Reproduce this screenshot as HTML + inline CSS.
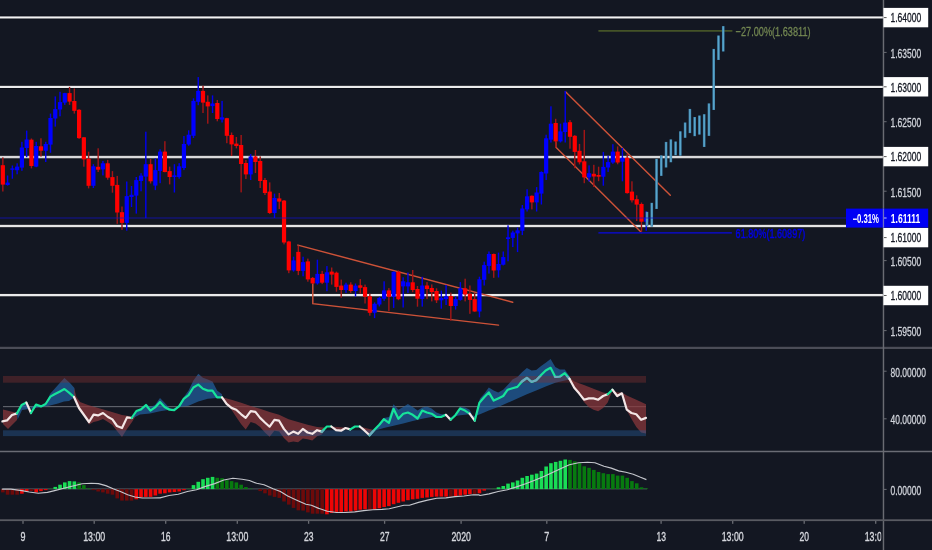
<!DOCTYPE html>
<html><head><meta charset="utf-8"><title>Chart</title>
<style>html,body{margin:0;padding:0;background:#131722;}body{width:932px;height:550px;overflow:hidden;}svg{display:block;will-change:transform;}text{font-family:"Liberation Sans",sans-serif;paint-order:stroke;stroke-linejoin:round;}</style>
</head><body>
<svg width="932" height="550" viewBox="0 0 932 550">
<rect x="0" y="0" width="932" height="550" fill="#131722"/>
<rect x="0" y="15.60" width="884" height="3.70" fill="#090c15"/>
<rect x="0" y="16.40" width="884" height="2.10" fill="#f2f2f3"/>
<rect x="0" y="85.00" width="884" height="3.80" fill="#090c15"/>
<rect x="0" y="85.80" width="884" height="2.20" fill="#ebebec"/>
<rect x="0" y="155.00" width="884" height="4.10" fill="#090c15"/>
<rect x="0" y="155.80" width="884" height="2.50" fill="#d9d9db"/>
<rect x="0" y="224.00" width="846" height="4.00" fill="#090c15"/>
<rect x="0" y="224.80" width="846" height="2.40" fill="#e5e5e6"/>
<rect x="0" y="293.10" width="884" height="4.00" fill="#090c15"/>
<rect x="0" y="293.90" width="884" height="2.40" fill="#ebebec"/>
<g stroke="#cd5238" stroke-width="1.45" fill="none" stroke-linecap="round">
<path d="M297.9 245.1 L512.7 302.2"/>
<path d="M312.8 283.5 L312.8 303.6 L498.5 325.1"/>
<path d="M565.5 91.7 L670.3 195.3"/>
<path d="M555.9 142 L555.9 147.3 L641.5 232.4"/>
</g>
<rect x="598.4" y="30.2" width="134" height="1.4" fill="#51632a"/>
<rect x="598.4" y="232.0" width="133.5" height="1.7" fill="#0c0cb0"/>
<g>
<rect x="2.14" y="157.4" width="1.4" height="34.1" fill="#a51616"/>
<rect x="0.74" y="165.2" width="4.2" height="19.4" fill="#ff0000"/>
<rect x="6.90" y="175.5" width="1.4" height="10.1" fill="#0000f0"/>
<rect x="5.50" y="182.6" width="4.2" height="2.4" fill="#0000ff"/>
<rect x="11.67" y="165.5" width="1.4" height="13.2" fill="#0000f0"/>
<rect x="10.27" y="168.4" width="4.2" height="1.4" fill="#0000ff"/>
<rect x="16.43" y="163.3" width="1.4" height="11.0" fill="#0000f0"/>
<rect x="15.03" y="166.6" width="4.2" height="3.6" fill="#0000ff"/>
<rect x="21.20" y="141.8" width="1.4" height="29.0" fill="#0000f0"/>
<rect x="19.80" y="147.5" width="4.2" height="20.1" fill="#0000ff"/>
<rect x="25.97" y="130.6" width="1.4" height="26.6" fill="#0000f0"/>
<rect x="24.57" y="139.5" width="4.2" height="8.5" fill="#0000ff"/>
<rect x="30.73" y="138.5" width="1.4" height="29.9" fill="#a51616"/>
<rect x="29.33" y="139.7" width="4.2" height="26.3" fill="#ff0000"/>
<rect x="35.50" y="141.8" width="1.4" height="25.4" fill="#0000f0"/>
<rect x="34.10" y="146.0" width="4.2" height="20.6" fill="#0000ff"/>
<rect x="40.26" y="138.3" width="1.4" height="18.3" fill="#a51616"/>
<rect x="38.86" y="146.3" width="4.2" height="4.4" fill="#ff0000"/>
<rect x="45.03" y="141.8" width="1.4" height="20.2" fill="#0000f0"/>
<rect x="43.63" y="144.0" width="4.2" height="6.7" fill="#0000ff"/>
<rect x="49.80" y="113.6" width="1.4" height="39.2" fill="#0000f0"/>
<rect x="48.40" y="118.0" width="4.2" height="26.6" fill="#0000ff"/>
<rect x="54.56" y="96.4" width="1.4" height="30.2" fill="#0000f0"/>
<rect x="53.16" y="109.1" width="4.2" height="9.4" fill="#0000ff"/>
<rect x="59.33" y="91.8" width="1.4" height="24.5" fill="#0000f0"/>
<rect x="57.93" y="102.1" width="4.2" height="7.4" fill="#0000ff"/>
<rect x="64.09" y="92.8" width="1.4" height="12.1" fill="#0000f0"/>
<rect x="62.69" y="93.1" width="4.2" height="9.5" fill="#0000ff"/>
<rect x="68.86" y="86.9" width="1.4" height="18.0" fill="#a51616"/>
<rect x="67.46" y="93.1" width="4.2" height="8.5" fill="#ff0000"/>
<rect x="73.63" y="88.5" width="1.4" height="25.1" fill="#a51616"/>
<rect x="72.23" y="101.0" width="4.2" height="9.8" fill="#ff0000"/>
<rect x="78.39" y="109.1" width="1.4" height="29.8" fill="#a51616"/>
<rect x="76.99" y="109.8" width="4.2" height="28.3" fill="#ff0000"/>
<rect x="83.16" y="137.0" width="1.4" height="29.7" fill="#a51616"/>
<rect x="81.76" y="137.3" width="4.2" height="22.1" fill="#ff0000"/>
<rect x="87.92" y="151.7" width="1.4" height="36.7" fill="#a51616"/>
<rect x="86.52" y="158.7" width="4.2" height="27.1" fill="#ff0000"/>
<rect x="92.69" y="164.2" width="1.4" height="23.8" fill="#0000f0"/>
<rect x="91.29" y="166.3" width="4.2" height="19.5" fill="#0000ff"/>
<rect x="97.46" y="148.3" width="1.4" height="23.7" fill="#a51616"/>
<rect x="96.06" y="166.8" width="4.2" height="2.9" fill="#ff0000"/>
<rect x="102.22" y="161.0" width="1.4" height="14.4" fill="#0000f0"/>
<rect x="100.82" y="163.3" width="4.2" height="6.1" fill="#0000ff"/>
<rect x="106.99" y="159.9" width="1.4" height="19.8" fill="#a51616"/>
<rect x="105.59" y="163.3" width="4.2" height="14.4" fill="#ff0000"/>
<rect x="111.75" y="171.1" width="1.4" height="21.6" fill="#a51616"/>
<rect x="110.35" y="177.1" width="4.2" height="8.7" fill="#ff0000"/>
<rect x="116.52" y="175.9" width="1.4" height="47.9" fill="#a51616"/>
<rect x="115.12" y="184.9" width="4.2" height="27.6" fill="#ff0000"/>
<rect x="121.29" y="206.5" width="1.4" height="23.3" fill="#a51616"/>
<rect x="119.89" y="212.2" width="4.2" height="10.7" fill="#ff0000"/>
<rect x="126.05" y="181.5" width="1.4" height="49.2" fill="#0000f0"/>
<rect x="124.65" y="196.1" width="4.2" height="26.8" fill="#0000ff"/>
<rect x="130.82" y="186.0" width="1.4" height="21.0" fill="#0000f0"/>
<rect x="129.42" y="194.8" width="4.2" height="2.2" fill="#0000ff"/>
<rect x="135.58" y="177.0" width="1.4" height="36.6" fill="#0000f0"/>
<rect x="134.18" y="180.1" width="4.2" height="15.5" fill="#0000ff"/>
<rect x="140.35" y="173.2" width="1.4" height="18.1" fill="#0000f0"/>
<rect x="138.95" y="175.6" width="4.2" height="5.4" fill="#0000ff"/>
<rect x="145.12" y="131.7" width="1.4" height="86.4" fill="#0000f0"/>
<rect x="143.72" y="164.2" width="4.2" height="12.4" fill="#0000ff"/>
<rect x="149.88" y="159.0" width="1.4" height="24.5" fill="#a51616"/>
<rect x="148.48" y="164.2" width="4.2" height="17.1" fill="#ff0000"/>
<rect x="154.65" y="158.5" width="1.4" height="31.6" fill="#0000f0"/>
<rect x="153.25" y="170.1" width="4.2" height="15.5" fill="#0000ff"/>
<rect x="159.41" y="149.3" width="1.4" height="33.9" fill="#0000f0"/>
<rect x="158.01" y="151.6" width="4.2" height="19.3" fill="#0000ff"/>
<rect x="164.18" y="141.2" width="1.4" height="31.1" fill="#a51616"/>
<rect x="162.78" y="151.6" width="4.2" height="20.4" fill="#ff0000"/>
<rect x="168.95" y="166.6" width="1.4" height="17.8" fill="#a51616"/>
<rect x="167.55" y="171.1" width="4.2" height="5.9" fill="#ff0000"/>
<rect x="173.71" y="164.2" width="1.4" height="28.3" fill="#0000f0"/>
<rect x="172.31" y="175.3" width="4.2" height="1.7" fill="#0000ff"/>
<rect x="178.48" y="163.2" width="1.4" height="15.5" fill="#0000f0"/>
<rect x="177.08" y="166.3" width="4.2" height="10.7" fill="#0000ff"/>
<rect x="183.24" y="136.0" width="1.4" height="34.1" fill="#0000f0"/>
<rect x="181.84" y="144.0" width="4.2" height="24.0" fill="#0000ff"/>
<rect x="188.01" y="130.3" width="1.4" height="15.5" fill="#0000f0"/>
<rect x="186.61" y="134.7" width="4.2" height="9.8" fill="#0000ff"/>
<rect x="192.78" y="98.3" width="1.4" height="39.7" fill="#0000f0"/>
<rect x="191.38" y="100.9" width="4.2" height="34.9" fill="#0000ff"/>
<rect x="197.54" y="77.1" width="1.4" height="28.1" fill="#0000f0"/>
<rect x="196.14" y="90.9" width="4.2" height="10.9" fill="#0000ff"/>
<rect x="202.31" y="85.7" width="1.4" height="27.3" fill="#a51616"/>
<rect x="200.91" y="90.9" width="4.2" height="11.7" fill="#ff0000"/>
<rect x="207.07" y="95.4" width="1.4" height="28.3" fill="#a51616"/>
<rect x="205.67" y="101.8" width="4.2" height="4.6" fill="#ff0000"/>
<rect x="211.84" y="95.4" width="1.4" height="17.6" fill="#0000f0"/>
<rect x="210.44" y="103.5" width="4.2" height="2.6" fill="#0000ff"/>
<rect x="216.61" y="100.0" width="1.4" height="21.3" fill="#a51616"/>
<rect x="215.21" y="103.0" width="4.2" height="16.0" fill="#ff0000"/>
<rect x="221.37" y="100.9" width="1.4" height="21.6" fill="#0000f0"/>
<rect x="219.97" y="117.3" width="4.2" height="2.3" fill="#0000ff"/>
<rect x="226.14" y="117.8" width="1.4" height="25.4" fill="#a51616"/>
<rect x="224.74" y="118.2" width="4.2" height="17.6" fill="#ff0000"/>
<rect x="230.90" y="132.5" width="1.4" height="23.5" fill="#a51616"/>
<rect x="229.50" y="135.0" width="4.2" height="9.4" fill="#ff0000"/>
<rect x="235.67" y="137.0" width="1.4" height="11.4" fill="#a51616"/>
<rect x="234.27" y="143.6" width="4.2" height="2.4" fill="#ff0000"/>
<rect x="240.44" y="135.0" width="1.4" height="57.4" fill="#a51616"/>
<rect x="239.04" y="145.0" width="4.2" height="19.0" fill="#ff0000"/>
<rect x="245.20" y="160.0" width="1.4" height="19.0" fill="#a51616"/>
<rect x="243.80" y="163.0" width="4.2" height="11.4" fill="#ff0000"/>
<rect x="249.97" y="154.0" width="1.4" height="26.0" fill="#0000f0"/>
<rect x="248.57" y="156.4" width="4.2" height="18.0" fill="#0000ff"/>
<rect x="254.73" y="150.0" width="1.4" height="23.0" fill="#a51616"/>
<rect x="253.33" y="156.4" width="4.2" height="5.6" fill="#ff0000"/>
<rect x="259.50" y="156.4" width="1.4" height="31.6" fill="#a51616"/>
<rect x="258.10" y="161.0" width="4.2" height="20.0" fill="#ff0000"/>
<rect x="264.27" y="178.0" width="1.4" height="17.0" fill="#a51616"/>
<rect x="262.87" y="180.0" width="4.2" height="13.0" fill="#ff0000"/>
<rect x="269.03" y="182.4" width="1.4" height="31.6" fill="#a51616"/>
<rect x="267.63" y="191.6" width="4.2" height="21.4" fill="#ff0000"/>
<rect x="273.80" y="193.6" width="1.4" height="24.4" fill="#0000f0"/>
<rect x="272.40" y="198.0" width="4.2" height="15.0" fill="#0000ff"/>
<rect x="278.56" y="193.0" width="1.4" height="16.0" fill="#a51616"/>
<rect x="277.16" y="198.4" width="4.2" height="3.2" fill="#ff0000"/>
<rect x="283.33" y="200.0" width="1.4" height="44.4" fill="#a51616"/>
<rect x="281.93" y="200.6" width="4.2" height="41.9" fill="#ff0000"/>
<rect x="288.10" y="240.8" width="1.4" height="32.4" fill="#a51616"/>
<rect x="286.70" y="241.5" width="4.2" height="28.9" fill="#ff0000"/>
<rect x="292.86" y="256.7" width="1.4" height="14.9" fill="#0000f0"/>
<rect x="291.46" y="260.4" width="4.2" height="10.0" fill="#0000ff"/>
<rect x="297.63" y="245.6" width="1.4" height="29.5" fill="#a51616"/>
<rect x="296.23" y="251.9" width="4.2" height="19.0" fill="#ff0000"/>
<rect x="302.39" y="256.7" width="1.4" height="19.6" fill="#0000f0"/>
<rect x="300.99" y="262.1" width="4.2" height="8.8" fill="#0000ff"/>
<rect x="307.16" y="258.6" width="1.4" height="23.1" fill="#a51616"/>
<rect x="305.76" y="261.4" width="4.2" height="18.0" fill="#ff0000"/>
<rect x="311.93" y="277.0" width="1.4" height="7.0" fill="#a51616"/>
<rect x="310.53" y="277.9" width="4.2" height="5.5" fill="#ff0000"/>
<rect x="316.69" y="259.7" width="1.4" height="24.9" fill="#0000f0"/>
<rect x="315.29" y="273.9" width="4.2" height="9.5" fill="#0000ff"/>
<rect x="321.46" y="270.9" width="1.4" height="13.2" fill="#a51616"/>
<rect x="320.06" y="273.9" width="4.2" height="8.8" fill="#ff0000"/>
<rect x="326.22" y="266.1" width="1.4" height="25.1" fill="#0000f0"/>
<rect x="324.82" y="272.3" width="4.2" height="10.4" fill="#0000ff"/>
<rect x="330.99" y="267.5" width="1.4" height="17.1" fill="#a51616"/>
<rect x="329.59" y="271.6" width="4.2" height="3.0" fill="#ff0000"/>
<rect x="335.76" y="271.6" width="1.4" height="20.1" fill="#a51616"/>
<rect x="334.36" y="272.7" width="4.2" height="14.2" fill="#ff0000"/>
<rect x="340.52" y="279.6" width="1.4" height="18.1" fill="#a51616"/>
<rect x="339.12" y="285.6" width="4.2" height="4.4" fill="#ff0000"/>
<rect x="345.29" y="282.7" width="1.4" height="10.2" fill="#0000f0"/>
<rect x="343.89" y="284.6" width="4.2" height="5.4" fill="#0000ff"/>
<rect x="350.05" y="282.3" width="1.4" height="10.6" fill="#a51616"/>
<rect x="348.65" y="284.6" width="4.2" height="6.4" fill="#ff0000"/>
<rect x="354.82" y="283.5" width="1.4" height="13.0" fill="#0000f0"/>
<rect x="353.42" y="285.6" width="4.2" height="5.4" fill="#0000ff"/>
<rect x="359.59" y="279.1" width="1.4" height="14.5" fill="#a51616"/>
<rect x="358.19" y="285.3" width="4.2" height="2.5" fill="#ff0000"/>
<rect x="364.35" y="284.6" width="1.4" height="18.9" fill="#a51616"/>
<rect x="362.95" y="287.1" width="4.2" height="9.7" fill="#ff0000"/>
<rect x="369.12" y="293.6" width="1.4" height="22.1" fill="#a51616"/>
<rect x="367.72" y="296.3" width="4.2" height="16.5" fill="#ff0000"/>
<rect x="373.88" y="302.4" width="1.4" height="15.7" fill="#0000f0"/>
<rect x="372.48" y="303.8" width="4.2" height="9.0" fill="#0000ff"/>
<rect x="378.65" y="296.8" width="1.4" height="9.6" fill="#0000f0"/>
<rect x="377.25" y="298.0" width="4.2" height="6.5" fill="#0000ff"/>
<rect x="383.42" y="281.3" width="1.4" height="19.6" fill="#0000f0"/>
<rect x="382.02" y="290.4" width="4.2" height="8.3" fill="#0000ff"/>
<rect x="388.18" y="288.1" width="1.4" height="23.0" fill="#a51616"/>
<rect x="386.78" y="290.4" width="4.2" height="6.4" fill="#ff0000"/>
<rect x="392.95" y="271.5" width="1.4" height="36.4" fill="#0000f0"/>
<rect x="391.55" y="271.8" width="4.2" height="25.0" fill="#0000ff"/>
<rect x="397.71" y="270.4" width="1.4" height="29.8" fill="#a51616"/>
<rect x="396.31" y="271.8" width="4.2" height="27.4" fill="#ff0000"/>
<rect x="402.48" y="277.3" width="1.4" height="30.2" fill="#0000f0"/>
<rect x="401.08" y="281.3" width="4.2" height="5.1" fill="#0000ff"/>
<rect x="407.25" y="272.5" width="1.4" height="20.4" fill="#0000f0"/>
<rect x="405.85" y="282.3" width="4.2" height="4.1" fill="#0000ff"/>
<rect x="412.01" y="270.0" width="1.4" height="22.2" fill="#a51616"/>
<rect x="410.61" y="282.3" width="4.2" height="7.7" fill="#ff0000"/>
<rect x="416.78" y="286.0" width="1.4" height="20.7" fill="#a51616"/>
<rect x="415.38" y="289.0" width="4.2" height="9.7" fill="#ff0000"/>
<rect x="421.54" y="276.8" width="1.4" height="29.8" fill="#0000f0"/>
<rect x="420.14" y="285.5" width="4.2" height="13.5" fill="#0000ff"/>
<rect x="426.31" y="282.1" width="1.4" height="17.0" fill="#a51616"/>
<rect x="424.91" y="285.5" width="4.2" height="3.5" fill="#ff0000"/>
<rect x="431.08" y="284.4" width="1.4" height="17.0" fill="#a51616"/>
<rect x="429.68" y="288.0" width="4.2" height="4.1" fill="#ff0000"/>
<rect x="435.84" y="288.3" width="1.4" height="14.7" fill="#a51616"/>
<rect x="434.44" y="291.0" width="4.2" height="9.3" fill="#ff0000"/>
<rect x="440.61" y="290.6" width="1.4" height="18.1" fill="#0000f0"/>
<rect x="439.21" y="297.9" width="4.2" height="2.4" fill="#0000ff"/>
<rect x="445.37" y="284.9" width="1.4" height="20.1" fill="#0000f0"/>
<rect x="443.97" y="296.3" width="4.2" height="2.8" fill="#0000ff"/>
<rect x="450.14" y="292.6" width="1.4" height="28.1" fill="#a51616"/>
<rect x="448.74" y="296.0" width="4.2" height="10.0" fill="#ff0000"/>
<rect x="454.91" y="296.3" width="1.4" height="13.3" fill="#0000f0"/>
<rect x="453.51" y="299.1" width="4.2" height="6.9" fill="#0000ff"/>
<rect x="459.67" y="282.1" width="1.4" height="18.5" fill="#0000f0"/>
<rect x="458.27" y="288.3" width="4.2" height="11.6" fill="#0000ff"/>
<rect x="464.44" y="278.7" width="1.4" height="22.7" fill="#a51616"/>
<rect x="463.04" y="288.3" width="4.2" height="6.2" fill="#ff0000"/>
<rect x="469.20" y="285.5" width="1.4" height="28.3" fill="#a51616"/>
<rect x="467.80" y="293.7" width="4.2" height="6.2" fill="#ff0000"/>
<rect x="473.97" y="293.2" width="1.4" height="18.6" fill="#a51616"/>
<rect x="472.57" y="299.1" width="4.2" height="12.4" fill="#ff0000"/>
<rect x="478.74" y="276.7" width="1.4" height="40.6" fill="#0000f0"/>
<rect x="477.34" y="279.3" width="4.2" height="32.2" fill="#0000ff"/>
<rect x="483.50" y="261.7" width="1.4" height="23.8" fill="#0000f0"/>
<rect x="482.10" y="265.1" width="4.2" height="14.7" fill="#0000ff"/>
<rect x="488.27" y="251.5" width="1.4" height="22.1" fill="#0000f0"/>
<rect x="486.87" y="254.0" width="4.2" height="11.9" fill="#0000ff"/>
<rect x="493.03" y="253.5" width="1.4" height="24.3" fill="#a51616"/>
<rect x="491.63" y="254.0" width="4.2" height="16.5" fill="#ff0000"/>
<rect x="497.80" y="252.6" width="1.4" height="24.9" fill="#0000f0"/>
<rect x="496.40" y="264.0" width="4.2" height="6.3" fill="#0000ff"/>
<rect x="502.57" y="251.5" width="1.4" height="13.9" fill="#0000f0"/>
<rect x="501.17" y="257.1" width="4.2" height="7.6" fill="#0000ff"/>
<rect x="507.33" y="225.3" width="1.4" height="36.0" fill="#0000f0"/>
<rect x="505.93" y="237.3" width="4.2" height="1.7" fill="#0000ff"/>
<rect x="512.10" y="230.7" width="1.4" height="16.4" fill="#0000f0"/>
<rect x="510.70" y="232.5" width="4.2" height="5.4" fill="#0000ff"/>
<rect x="516.86" y="227.5" width="1.4" height="24.6" fill="#0000f0"/>
<rect x="515.46" y="230.3" width="4.2" height="3.1" fill="#0000ff"/>
<rect x="521.63" y="205.0" width="1.4" height="30.1" fill="#0000f0"/>
<rect x="520.23" y="208.5" width="4.2" height="22.2" fill="#0000ff"/>
<rect x="526.40" y="189.3" width="1.4" height="22.2" fill="#0000f0"/>
<rect x="525.00" y="196.3" width="4.2" height="13.1" fill="#0000ff"/>
<rect x="531.16" y="195.4" width="1.4" height="14.0" fill="#a51616"/>
<rect x="529.76" y="195.8" width="4.2" height="6.6" fill="#ff0000"/>
<rect x="535.93" y="187.1" width="1.4" height="24.4" fill="#0000f0"/>
<rect x="534.53" y="192.5" width="4.2" height="9.9" fill="#0000ff"/>
<rect x="540.69" y="171.4" width="1.4" height="33.1" fill="#0000f0"/>
<rect x="539.29" y="172.0" width="4.2" height="21.6" fill="#0000ff"/>
<rect x="545.46" y="134.7" width="1.4" height="45.3" fill="#0000f0"/>
<rect x="544.06" y="138.3" width="4.2" height="35.2" fill="#0000ff"/>
<rect x="550.23" y="106.3" width="1.4" height="36.2" fill="#0000f0"/>
<rect x="548.83" y="123.7" width="4.2" height="16.0" fill="#0000ff"/>
<rect x="554.99" y="118.8" width="1.4" height="28.9" fill="#a51616"/>
<rect x="553.59" y="123.0" width="4.2" height="18.4" fill="#ff0000"/>
<rect x="559.76" y="123.7" width="1.4" height="18.8" fill="#0000f0"/>
<rect x="558.36" y="131.4" width="4.2" height="10.0" fill="#0000ff"/>
<rect x="564.52" y="90.9" width="1.4" height="51.6" fill="#0000f0"/>
<rect x="563.12" y="122.6" width="4.2" height="9.4" fill="#0000ff"/>
<rect x="569.29" y="120.1" width="1.4" height="28.6" fill="#a51616"/>
<rect x="567.89" y="122.2" width="4.2" height="14.6" fill="#ff0000"/>
<rect x="574.06" y="135.1" width="1.4" height="33.1" fill="#a51616"/>
<rect x="572.66" y="135.8" width="4.2" height="16.1" fill="#ff0000"/>
<rect x="578.82" y="143.9" width="1.4" height="20.5" fill="#a51616"/>
<rect x="577.42" y="150.8" width="4.2" height="11.5" fill="#ff0000"/>
<rect x="583.59" y="129.9" width="1.4" height="53.3" fill="#a51616"/>
<rect x="582.19" y="161.3" width="4.2" height="16.1" fill="#ff0000"/>
<rect x="588.35" y="165.4" width="1.4" height="16.1" fill="#0000f0"/>
<rect x="586.95" y="173.2" width="4.2" height="4.2" fill="#0000ff"/>
<rect x="593.12" y="164.8" width="1.4" height="22.2" fill="#a51616"/>
<rect x="591.72" y="173.8" width="4.2" height="2.7" fill="#ff0000"/>
<rect x="597.89" y="166.7" width="1.4" height="14.5" fill="#a51616"/>
<rect x="596.49" y="175.0" width="4.2" height="1.7" fill="#ff0000"/>
<rect x="602.65" y="151.9" width="1.4" height="33.8" fill="#0000f0"/>
<rect x="601.25" y="166.9" width="4.2" height="9.8" fill="#0000ff"/>
<rect x="607.42" y="155.5" width="1.4" height="16.4" fill="#0000f0"/>
<rect x="606.02" y="162.1" width="4.2" height="5.4" fill="#0000ff"/>
<rect x="612.18" y="144.2" width="1.4" height="19.6" fill="#0000f0"/>
<rect x="610.78" y="151.6" width="4.2" height="10.9" fill="#0000ff"/>
<rect x="616.95" y="146.4" width="1.4" height="17.9" fill="#a51616"/>
<rect x="615.55" y="151.6" width="4.2" height="10.9" fill="#ff0000"/>
<rect x="621.72" y="147.9" width="1.4" height="33.4" fill="#0000f0"/>
<rect x="620.32" y="157.7" width="4.2" height="4.0" fill="#0000ff"/>
<rect x="626.48" y="153.8" width="1.4" height="39.9" fill="#a51616"/>
<rect x="625.08" y="157.7" width="4.2" height="35.4" fill="#ff0000"/>
<rect x="631.25" y="181.3" width="1.4" height="21.2" fill="#a51616"/>
<rect x="629.85" y="191.6" width="4.2" height="8.7" fill="#ff0000"/>
<rect x="636.01" y="195.3" width="1.4" height="25.7" fill="#a51616"/>
<rect x="634.61" y="199.2" width="4.2" height="5.4" fill="#ff0000"/>
<rect x="640.78" y="202.5" width="1.4" height="29.4" fill="#a51616"/>
<rect x="639.38" y="204.0" width="4.2" height="17.7" fill="#ff0000"/>
<rect x="645.55" y="211.2" width="1.4" height="19.6" fill="#0000f0"/>
<rect x="644.15" y="217.7" width="4.2" height="4.0" fill="#0000ff"/>
</g>
<g>
<rect x="645.70" y="211.8" width="2.6" height="14.6" fill="#3a7aa2"/>
<rect x="646.30" y="212.1" width="1.4" height="14.0" fill="#5aa6cb"/>
<rect x="650.46" y="202.8" width="2.6" height="23.8" fill="#3a7aa2"/>
<rect x="651.06" y="203.1" width="1.4" height="23.2" fill="#5aa6cb"/>
<rect x="655.23" y="158.8" width="2.6" height="50.2" fill="#3a7aa2"/>
<rect x="655.83" y="159.1" width="1.4" height="49.6" fill="#5aa6cb"/>
<rect x="659.99" y="155.4" width="2.6" height="20.5" fill="#3a7aa2"/>
<rect x="660.59" y="155.7" width="1.4" height="19.9" fill="#5aa6cb"/>
<rect x="664.76" y="141.9" width="2.6" height="25.6" fill="#3a7aa2"/>
<rect x="665.36" y="142.2" width="1.4" height="25.0" fill="#5aa6cb"/>
<rect x="669.53" y="139.4" width="2.6" height="22.9" fill="#3a7aa2"/>
<rect x="670.13" y="139.7" width="1.4" height="22.3" fill="#5aa6cb"/>
<rect x="674.29" y="141.5" width="2.6" height="13.8" fill="#3a7aa2"/>
<rect x="674.89" y="141.8" width="1.4" height="13.2" fill="#5aa6cb"/>
<rect x="679.06" y="131.3" width="2.6" height="24.4" fill="#3a7aa2"/>
<rect x="679.66" y="131.6" width="1.4" height="23.8" fill="#5aa6cb"/>
<rect x="683.82" y="122.5" width="2.6" height="15.3" fill="#3a7aa2"/>
<rect x="684.42" y="122.8" width="1.4" height="14.7" fill="#5aa6cb"/>
<rect x="688.59" y="108.9" width="2.6" height="24.2" fill="#3a7aa2"/>
<rect x="689.19" y="109.2" width="1.4" height="23.6" fill="#5aa6cb"/>
<rect x="693.36" y="117.0" width="2.6" height="19.2" fill="#3a7aa2"/>
<rect x="693.96" y="117.3" width="1.4" height="18.6" fill="#5aa6cb"/>
<rect x="698.12" y="115.5" width="2.6" height="19.1" fill="#3a7aa2"/>
<rect x="698.72" y="115.8" width="1.4" height="18.5" fill="#5aa6cb"/>
<rect x="702.89" y="114.2" width="2.6" height="32.8" fill="#3a7aa2"/>
<rect x="703.49" y="114.5" width="1.4" height="32.2" fill="#5aa6cb"/>
<rect x="707.65" y="103.4" width="2.6" height="32.5" fill="#3a7aa2"/>
<rect x="708.25" y="103.7" width="1.4" height="31.9" fill="#5aa6cb"/>
<rect x="712.42" y="48.9" width="2.6" height="61.1" fill="#3a7aa2"/>
<rect x="713.02" y="49.2" width="1.4" height="60.5" fill="#5aa6cb"/>
<rect x="717.19" y="35.5" width="2.6" height="24.5" fill="#3a7aa2"/>
<rect x="717.79" y="35.8" width="1.4" height="23.9" fill="#5aa6cb"/>
<rect x="721.95" y="26.1" width="2.6" height="25.4" fill="#3a7aa2"/>
<rect x="722.55" y="26.4" width="1.4" height="24.8" fill="#5aa6cb"/>
</g>
<rect x="0" y="217.4" width="846" height="1.2" fill="rgba(18,18,205,0.6)"/>
<text x="735.6" y="36.2" font-size="13.2" fill="#728651" stroke="#728651" stroke-width="0.3" textLength="75" lengthAdjust="spacingAndGlyphs">−27.00%(1.63811)</text>
<text x="735.6" y="238.2" font-size="13.2" fill="#0000e6" stroke="#0000e6" stroke-width="0.45" textLength="69.7" lengthAdjust="spacingAndGlyphs">61.80%(1.60897)</text>
<rect x="0" y="346.0" width="932" height="3.8" fill="#0e111a"/>
<rect x="0" y="346.7" width="932" height="2.4" fill="#4b4d57"/>
<rect x="0" y="450.75" width="932" height="1.5" fill="#6a6c75"/>
<rect x="3" y="406.15" width="643" height="1" fill="#6b6e77"/>
<polygon fill="rgba(140,55,60,0.72)" points="3.0,409.4 17.0,413.0 17.0,420.0 8.0,429.0 3.0,424.0"/>
<polygon fill="rgba(33,96,160,0.72)" points="17.0,414.0 21.6,405.0 26.4,402.6 29.0,408.6 36.0,404.6 41.0,406.4 45.6,404.0 50.0,394.0 58.0,385.0 64.4,378.0 70.0,383.0 74.4,388.0 75.0,396.0 74.0,397.4 69.0,401.0 64.0,401.4 58.0,403.4 48.0,406.0 32.0,408.6 22.0,410.0 17.6,419.4"/>
<polygon fill="rgba(140,55,60,0.72)" points="74.0,388.0 76.4,397.0 80.0,402.0 88.0,405.0 100.0,408.6 112.0,412.0 122.0,415.0 132.0,416.6 136.0,416.0 136.0,415.4 132.0,422.0 127.0,429.0 122.0,437.0 117.0,431.0 112.4,425.0 108.0,422.0 103.0,419.0 98.0,421.0 93.6,422.0 89.0,424.6 84.0,415.0 79.0,408.0 74.4,397.4"/>
<polygon fill="rgba(33,96,160,0.72)" points="132.0,417.4 136.4,411.0 141.0,409.4 146.0,404.0 150.4,407.0 155.0,405.0 160.0,398.0 160.0,397.9 164.6,402.8 169.5,407.9 174.2,409.7 179.2,405.7 183.7,397.3 188.6,390.6 193.4,380.5 198.3,373.8 202.9,377.8 207.8,379.6 212.5,381.5 217.1,390.6 222.0,394.2 222.0,397.9 217.1,397.9 207.8,398.8 198.3,401.5 188.6,405.7 179.2,407.0 169.5,409.7 160.0,411.2 150.0,413.4 140.0,414.6 133.0,418.0"/>
<polygon fill="rgba(140,55,60,0.72)" points="222.0,397.3 231.5,399.7 241.2,402.8 250.7,406.1 260.1,408.8 269.6,411.9 279.1,414.8 288.6,419.2 298.1,422.1 307.6,424.7 317.1,427.1 324.2,427.6 324.2,431.6 321.8,434.4 317.1,436.2 312.3,440.4 307.6,439.3 302.8,438.5 298.1,442.2 293.3,441.6 288.6,442.6 283.9,438.0 279.1,431.6 274.4,430.7 269.6,436.7 264.9,432.5 260.1,427.1 255.4,423.4 250.7,422.1 245.7,429.4 241.2,424.3 236.2,417.0 231.5,409.7 226.6,403.9 222.0,397.9"/>
<polygon fill="rgba(140,55,60,0.72)" points="331.3,426.5 340.1,427.2 349.2,428.0 345.5,428.0 341.0,430.7 336.1,430.2"/>
<polygon fill="rgba(140,55,60,0.72)" points="359.8,426.5 367.4,428.5 372.9,429.8 369.6,435.3 364.7,430.7"/>
<polygon fill="rgba(33,96,160,0.72)" points="374.4,429.4 379.3,423.4 383.8,417.9 389.0,417.0 393.5,404.3 398.4,409.7 403.2,407.0 407.9,403.9 412.7,407.0 417.6,410.6 422.2,407.5 426.9,406.6 431.6,408.4 436.4,412.5 441.1,414.3 445.9,414.3 450.6,417.9 455.4,414.3 460.1,407.0 465.0,407.5 469.6,409.7 472.3,415.2 474.7,418.8 479.4,400.6 480.0,398.4 484.6,393.3 488.8,387.5 493.7,390.6 498.2,392.4 503.2,389.7 507.7,385.1 512.5,379.6 517.4,376.9 522.0,372.3 526.9,368.1 531.6,370.5 536.2,370.0 541.1,365.9 545.7,362.7 550.6,359.0 555.3,366.9 559.9,369.6 564.8,369.6 569.4,376.0 570.3,379.6 569.4,379.6 564.8,380.5 555.3,382.7 545.7,386.4 536.2,390.6 526.9,394.2 517.4,398.4 507.7,402.8 498.2,407.0 488.8,410.6 480.0,414.3 474.7,416.1 469.6,414.3 460.1,415.2 450.6,417.0 441.1,416.1 431.6,417.0 422.2,418.8 412.7,421.0 403.2,423.4 393.5,425.8 383.8,428.0 374.4,430.7"/>
<polygon fill="rgba(140,55,60,0.72)" points="569.4,377.8 574.3,381.5 584.0,385.1 593.5,388.7 603.1,392.4 609.5,393.7 612.4,390.6 617.2,392.4 621.9,392.4 626.8,395.5 636.3,399.7 646.0,404.3 646.0,433.4 641.1,432.5 636.3,427.1 631.4,418.8 626.8,410.6 624.1,401.5 621.9,394.2 617.2,397.3 615.0,394.2 612.4,390.6 607.7,402.4 603.1,407.9 598.2,411.2 593.5,409.7 588.7,407.0 584.0,402.1 579.1,394.2 574.3,387.8 569.4,379.6"/>
<rect x="3" y="376" width="643" height="6.7" fill="rgba(129,50,49,0.4)"/>
<rect x="3" y="430.3" width="643" height="5.8" fill="rgba(39,96,154,0.4)"/>
<defs><clipPath id="rb"><rect x="3" y="376" width="643" height="6.7"/><rect x="3" y="430.3" width="643" height="5.8"/></clipPath></defs>
<polyline fill="none" stroke="#f3e6e6" stroke-width="2.2" stroke-linejoin="round" stroke-linecap="round" points="2.4,421.4 7.0,420.4 12.0,415.0 17.0,413.4"/>
<polyline fill="none" stroke="#17e39a" stroke-width="2.2" stroke-linejoin="round" stroke-linecap="round" points="17.0,413.4 21.6,405.0 26.4,402.6"/>
<polyline clip-path="url(#rb)" fill="none" stroke="#6fa8c0" stroke-width="2.2" stroke-linejoin="round" stroke-linecap="round" points="17.0,413.4 21.6,405.0 26.4,402.6"/>
<polyline fill="none" stroke="#f3e6e6" stroke-width="2.2" stroke-linejoin="round" stroke-linecap="round" points="26.4,402.6 31.0,413.0"/>
<polyline fill="none" stroke="#17e39a" stroke-width="2.2" stroke-linejoin="round" stroke-linecap="round" points="31.0,413.0 36.0,404.6 41.0,406.4 45.6,404.0 50.4,396.6 55.0,394.0 60.0,391.4 64.4,389.0 69.0,392.6 74.0,397.0"/>
<polyline clip-path="url(#rb)" fill="none" stroke="#6fa8c0" stroke-width="2.2" stroke-linejoin="round" stroke-linecap="round" points="31.0,413.0 36.0,404.6 41.0,406.4 45.6,404.0 50.4,396.6 55.0,394.0 60.0,391.4 64.4,389.0 69.0,392.6 74.0,397.0"/>
<polyline fill="none" stroke="#f3e6e6" stroke-width="2.2" stroke-linejoin="round" stroke-linecap="round" points="74.0,397.0 79.0,408.0 84.0,415.0 89.0,422.0 93.6,414.6 98.0,415.4 103.0,413.0 108.0,417.0 112.4,419.4 117.0,426.0 122.0,428.0 127.0,417.4 131.6,418.0"/>
<polyline fill="none" stroke="#17e39a" stroke-width="2.2" stroke-linejoin="round" stroke-linecap="round" points="131.6,418.0 136.4,411.0 141.0,409.4 146.0,405.0 150.4,410.6 155.0,407.4 160.0,402.0 164.6,407.0 169.5,409.7 174.2,410.1 179.2,406.1 183.7,398.8 188.6,395.1 193.4,387.5 198.3,384.6 202.9,388.7 207.8,390.6 212.5,390.6 217.1,397.3 222.0,397.3"/>
<polyline clip-path="url(#rb)" fill="none" stroke="#6fa8c0" stroke-width="2.2" stroke-linejoin="round" stroke-linecap="round" points="131.6,418.0 136.4,411.0 141.0,409.4 146.0,405.0 150.4,410.6 155.0,407.4 160.0,402.0 164.6,407.0 169.5,409.7 174.2,410.1 179.2,406.1 183.7,398.8 188.6,395.1 193.4,387.5 198.3,384.6 202.9,388.7 207.8,390.6 212.5,390.6 217.1,397.3 222.0,397.3"/>
<polyline fill="none" stroke="#f3e6e6" stroke-width="2.2" stroke-linejoin="round" stroke-linecap="round" points="222.0,397.3 226.6,403.9 231.5,407.9 236.2,409.7 241.2,414.3 245.7,417.9 250.7,411.2 255.4,411.9 260.1,417.9 264.9,422.5 269.6,426.7 274.4,419.8 279.1,420.7 283.9,428.9 288.6,434.4 293.3,431.6 298.1,433.8 302.8,428.9 307.6,432.5 312.3,433.8 317.1,430.2 321.8,431.6"/>
<polyline fill="none" stroke="#17e39a" stroke-width="2.2" stroke-linejoin="round" stroke-linecap="round" points="321.8,431.6 326.9,426.5 331.3,426.5"/>
<polyline clip-path="url(#rb)" fill="none" stroke="#6fa8c0" stroke-width="2.2" stroke-linejoin="round" stroke-linecap="round" points="321.8,431.6 326.9,426.5 331.3,426.5"/>
<polyline fill="none" stroke="#f3e6e6" stroke-width="2.2" stroke-linejoin="round" stroke-linecap="round" points="331.3,426.5 336.1,430.2 341.0,430.7 345.5,428.0 350.3,429.4"/>
<polyline fill="none" stroke="#17e39a" stroke-width="2.2" stroke-linejoin="round" stroke-linecap="round" points="350.3,429.4 355.0,426.5 359.8,426.5"/>
<polyline clip-path="url(#rb)" fill="none" stroke="#6fa8c0" stroke-width="2.2" stroke-linejoin="round" stroke-linecap="round" points="350.3,429.4 355.0,426.5 359.8,426.5"/>
<polyline fill="none" stroke="#f3e6e6" stroke-width="2.2" stroke-linejoin="round" stroke-linecap="round" points="359.8,426.5 364.7,430.7 369.6,435.3"/>
<polyline fill="none" stroke="#17e39a" stroke-width="2.2" stroke-linejoin="round" stroke-linecap="round" points="369.6,435.3 374.4,429.8 379.3,424.7 383.8,419.2 388.9,422.9 393.5,408.8 398.4,418.8 403.2,413.7 407.9,412.5 412.7,414.8 417.6,418.5 422.2,410.6 426.9,412.5 431.6,413.7 436.4,417.0 441.1,417.0 445.9,414.8"/>
<polyline clip-path="url(#rb)" fill="none" stroke="#6fa8c0" stroke-width="2.2" stroke-linejoin="round" stroke-linecap="round" points="369.6,435.3 374.4,429.8 379.3,424.7 383.8,419.2 388.9,422.9 393.5,408.8 398.4,418.8 403.2,413.7 407.9,412.5 412.7,414.8 417.6,418.5 422.2,410.6 426.9,412.5 431.6,413.7 436.4,417.0 441.1,417.0 445.9,414.8"/>
<polyline fill="none" stroke="#f3e6e6" stroke-width="2.2" stroke-linejoin="round" stroke-linecap="round" points="445.9,414.8 450.6,419.8"/>
<polyline fill="none" stroke="#17e39a" stroke-width="2.2" stroke-linejoin="round" stroke-linecap="round" points="450.6,419.8 455.4,415.2 460.1,408.4 465.0,410.6 469.6,413.7"/>
<polyline clip-path="url(#rb)" fill="none" stroke="#6fa8c0" stroke-width="2.2" stroke-linejoin="round" stroke-linecap="round" points="450.6,419.8 455.4,415.2 460.1,408.4 465.0,410.6 469.6,413.7"/>
<polyline fill="none" stroke="#f3e6e6" stroke-width="2.2" stroke-linejoin="round" stroke-linecap="round" points="469.6,413.7 474.7,420.7"/>
<polyline fill="none" stroke="#17e39a" stroke-width="2.2" stroke-linejoin="round" stroke-linecap="round" points="474.7,420.7 479.4,402.8 484.4,397.0 488.8,392.4 493.7,400.6 498.2,398.4 503.2,396.0 507.7,389.7 512.5,388.2 517.4,386.9 522.0,381.5 526.9,377.8 531.6,382.0 536.2,380.2 541.1,375.1 545.7,370.5 550.6,367.8 555.3,376.9 559.9,376.5 564.8,373.2 569.4,378.7"/>
<polyline clip-path="url(#rb)" fill="none" stroke="#6fa8c0" stroke-width="2.2" stroke-linejoin="round" stroke-linecap="round" points="474.7,420.7 479.4,402.8 484.4,397.0 488.8,392.4 493.7,400.6 498.2,398.4 503.2,396.0 507.7,389.7 512.5,388.2 517.4,386.9 522.0,381.5 526.9,377.8 531.6,382.0 536.2,380.2 541.1,375.1 545.7,370.5 550.6,367.8 555.3,376.9 559.9,376.5 564.8,373.2 569.4,378.7"/>
<polyline fill="none" stroke="#f3e6e6" stroke-width="2.2" stroke-linejoin="round" stroke-linecap="round" points="569.4,378.7 574.3,387.8 579.1,393.3 584.0,399.7 588.7,398.4 593.5,398.4 598.2,399.7 603.1,396.0 607.7,394.2"/>
<polyline fill="none" stroke="#17e39a" stroke-width="2.2" stroke-linejoin="round" stroke-linecap="round" points="607.7,394.2 612.4,389.7"/>
<polyline clip-path="url(#rb)" fill="none" stroke="#6fa8c0" stroke-width="2.2" stroke-linejoin="round" stroke-linecap="round" points="607.7,394.2 612.4,389.7"/>
<polyline fill="none" stroke="#f3e6e6" stroke-width="2.2" stroke-linejoin="round" stroke-linecap="round" points="612.4,389.7 617.2,396.0 621.9,393.3 626.8,409.7 631.4,413.0 636.3,414.3 641.1,419.8 646.0,417.9"/>
<rect x="3" y="488.45" width="644" height="0.9" fill="#5a5d66"/>
<g>
<rect x="1.04" y="489.1" width="3.6" height="3.3" fill="#6d0a0a"/>
<rect x="5.80" y="489.1" width="3.6" height="5.6" fill="#6d0a0a"/>
<rect x="10.57" y="489.1" width="3.6" height="5.6" fill="#6d0a0a"/>
<rect x="15.33" y="489.1" width="3.6" height="5.6" fill="#6d0a0a"/>
<rect x="20.10" y="489.1" width="3.6" height="4.6" fill="#ee0505"/>
<rect x="24.87" y="489.1" width="3.6" height="2.4" fill="#ee0505"/>
<rect x="29.63" y="489.1" width="3.6" height="2.0" fill="#6d0a0a"/>
<rect x="34.40" y="489.1" width="3.6" height="3.3" fill="#ee0505"/>
<rect x="39.16" y="489.1" width="3.6" height="2.0" fill="#ee0505"/>
<rect x="43.93" y="489.1" width="3.6" height="1.0" fill="#ee0505"/>
<rect x="48.70" y="488.6" width="3.6" height="0.5" fill="#077a0f"/>
<rect x="53.46" y="486.9" width="3.6" height="2.2" fill="#19dd55"/>
<rect x="58.23" y="484.7" width="3.6" height="4.4" fill="#19dd55"/>
<rect x="62.99" y="482.4" width="3.6" height="6.7" fill="#19dd55"/>
<rect x="67.76" y="481.1" width="3.6" height="8.0" fill="#19dd55"/>
<rect x="72.53" y="481.4" width="3.6" height="7.7" fill="#19dd55"/>
<rect x="77.29" y="482.4" width="3.6" height="6.7" fill="#077a0f"/>
<rect x="82.06" y="485.1" width="3.6" height="4.0" fill="#077a0f"/>
<rect x="86.82" y="488.4" width="3.6" height="0.7" fill="#077a0f"/>
<rect x="91.59" y="489.1" width="3.6" height="1.0" fill="#6d0a0a"/>
<rect x="96.36" y="489.1" width="3.6" height="2.4" fill="#6d0a0a"/>
<rect x="101.12" y="489.1" width="3.6" height="3.3" fill="#6d0a0a"/>
<rect x="105.89" y="489.1" width="3.6" height="4.6" fill="#6d0a0a"/>
<rect x="110.65" y="489.1" width="3.6" height="5.6" fill="#6d0a0a"/>
<rect x="115.42" y="489.1" width="3.6" height="9.3" fill="#6d0a0a"/>
<rect x="120.19" y="489.1" width="3.6" height="11.5" fill="#6d0a0a"/>
<rect x="124.95" y="489.1" width="3.6" height="11.5" fill="#6d0a0a"/>
<rect x="129.72" y="489.1" width="3.6" height="11.5" fill="#6d0a0a"/>
<rect x="134.48" y="489.1" width="3.6" height="10.2" fill="#ee0505"/>
<rect x="139.25" y="489.1" width="3.6" height="8.2" fill="#ee0505"/>
<rect x="144.02" y="489.1" width="3.6" height="7.8" fill="#ee0505"/>
<rect x="148.78" y="489.1" width="3.6" height="7.8" fill="#ee0505"/>
<rect x="153.55" y="489.1" width="3.6" height="6.4" fill="#ee0505"/>
<rect x="158.31" y="489.1" width="3.6" height="4.6" fill="#ee0505"/>
<rect x="163.08" y="489.1" width="3.6" height="4.2" fill="#ee0505"/>
<rect x="167.85" y="489.1" width="3.6" height="3.3" fill="#ee0505"/>
<rect x="172.61" y="489.1" width="3.6" height="2.9" fill="#ee0505"/>
<rect x="177.38" y="489.1" width="3.6" height="2.4" fill="#ee0505"/>
<rect x="182.14" y="489.1" width="3.6" height="1.1" fill="#ee0505"/>
<rect x="186.91" y="488.6" width="3.6" height="0.5" fill="#077a0f"/>
<rect x="191.68" y="485.1" width="3.6" height="4.0" fill="#19dd55"/>
<rect x="196.44" y="481.8" width="3.6" height="7.3" fill="#19dd55"/>
<rect x="201.21" y="479.2" width="3.6" height="9.9" fill="#19dd55"/>
<rect x="205.97" y="477.8" width="3.6" height="11.3" fill="#19dd55"/>
<rect x="210.74" y="476.9" width="3.6" height="12.2" fill="#19dd55"/>
<rect x="215.51" y="477.8" width="3.6" height="11.3" fill="#077a0f"/>
<rect x="220.27" y="478.2" width="3.6" height="10.9" fill="#077a0f"/>
<rect x="225.04" y="480.2" width="3.6" height="8.9" fill="#077a0f"/>
<rect x="229.80" y="481.1" width="3.6" height="8.0" fill="#077a0f"/>
<rect x="234.57" y="482.4" width="3.6" height="6.7" fill="#077a0f"/>
<rect x="239.34" y="484.7" width="3.6" height="4.4" fill="#077a0f"/>
<rect x="244.10" y="487.1" width="3.6" height="2.0" fill="#077a0f"/>
<rect x="248.87" y="488.6" width="3.6" height="0.5" fill="#077a0f"/>
<rect x="258.40" y="489.1" width="3.6" height="2.0" fill="#6d0a0a"/>
<rect x="263.17" y="489.1" width="3.6" height="4.2" fill="#6d0a0a"/>
<rect x="267.93" y="489.1" width="3.6" height="6.4" fill="#6d0a0a"/>
<rect x="272.70" y="489.1" width="3.6" height="7.8" fill="#6d0a0a"/>
<rect x="277.46" y="489.1" width="3.6" height="8.8" fill="#6d0a0a"/>
<rect x="282.23" y="489.1" width="3.6" height="12.4" fill="#6d0a0a"/>
<rect x="287.00" y="489.1" width="3.6" height="15.5" fill="#6d0a0a"/>
<rect x="291.76" y="489.1" width="3.6" height="18.8" fill="#6d0a0a"/>
<rect x="296.53" y="489.1" width="3.6" height="21.2" fill="#6d0a0a"/>
<rect x="301.29" y="489.1" width="3.6" height="21.5" fill="#6d0a0a"/>
<rect x="306.06" y="489.1" width="3.6" height="23.3" fill="#6d0a0a"/>
<rect x="310.83" y="489.1" width="3.6" height="24.6" fill="#6d0a0a"/>
<rect x="315.59" y="489.1" width="3.6" height="24.6" fill="#6d0a0a"/>
<rect x="320.36" y="489.1" width="3.6" height="24.6" fill="#6d0a0a"/>
<rect x="325.12" y="489.1" width="3.6" height="25.2" fill="#ee0505"/>
<rect x="329.89" y="489.1" width="3.6" height="23.9" fill="#ee0505"/>
<rect x="334.66" y="489.1" width="3.6" height="22.8" fill="#ee0505"/>
<rect x="339.42" y="489.1" width="3.6" height="22.8" fill="#ee0505"/>
<rect x="344.19" y="489.1" width="3.6" height="22.4" fill="#ee0505"/>
<rect x="348.95" y="489.1" width="3.6" height="22.4" fill="#ee0505"/>
<rect x="353.72" y="489.1" width="3.6" height="21.5" fill="#ee0505"/>
<rect x="358.49" y="489.1" width="3.6" height="20.6" fill="#ee0505"/>
<rect x="363.25" y="489.1" width="3.6" height="20.2" fill="#ee0505"/>
<rect x="368.02" y="489.1" width="3.6" height="20.6" fill="#6d0a0a"/>
<rect x="372.78" y="489.1" width="3.6" height="20.2" fill="#ee0505"/>
<rect x="377.55" y="489.1" width="3.6" height="19.2" fill="#ee0505"/>
<rect x="382.32" y="489.1" width="3.6" height="17.9" fill="#ee0505"/>
<rect x="387.08" y="489.1" width="3.6" height="17.0" fill="#ee0505"/>
<rect x="391.85" y="489.1" width="3.6" height="15.1" fill="#ee0505"/>
<rect x="396.61" y="489.1" width="3.6" height="13.7" fill="#ee0505"/>
<rect x="401.38" y="489.1" width="3.6" height="12.4" fill="#ee0505"/>
<rect x="406.15" y="489.1" width="3.6" height="11.1" fill="#ee0505"/>
<rect x="410.91" y="489.1" width="3.6" height="10.2" fill="#ee0505"/>
<rect x="415.68" y="489.1" width="3.6" height="9.7" fill="#ee0505"/>
<rect x="420.44" y="489.1" width="3.6" height="8.8" fill="#ee0505"/>
<rect x="425.21" y="489.1" width="3.6" height="8.4" fill="#ee0505"/>
<rect x="429.98" y="489.1" width="3.6" height="7.8" fill="#ee0505"/>
<rect x="434.74" y="489.1" width="3.6" height="7.5" fill="#ee0505"/>
<rect x="439.51" y="489.1" width="3.6" height="7.5" fill="#ee0505"/>
<rect x="444.27" y="489.1" width="3.6" height="7.5" fill="#ee0505"/>
<rect x="449.04" y="489.1" width="3.6" height="7.5" fill="#6d0a0a"/>
<rect x="453.81" y="489.1" width="3.6" height="6.9" fill="#ee0505"/>
<rect x="458.57" y="489.1" width="3.6" height="6.4" fill="#ee0505"/>
<rect x="463.34" y="489.1" width="3.6" height="5.6" fill="#ee0505"/>
<rect x="468.10" y="489.1" width="3.6" height="5.1" fill="#ee0505"/>
<rect x="472.87" y="489.1" width="3.6" height="5.1" fill="#6d0a0a"/>
<rect x="477.64" y="489.1" width="3.6" height="4.2" fill="#ee0505"/>
<rect x="482.40" y="489.1" width="3.6" height="1.5" fill="#ee0505"/>
<rect x="491.93" y="488.6" width="3.6" height="0.5" fill="#077a0f"/>
<rect x="496.70" y="487.3" width="3.6" height="1.8" fill="#19dd55"/>
<rect x="501.47" y="486.0" width="3.6" height="3.1" fill="#19dd55"/>
<rect x="506.23" y="483.6" width="3.6" height="5.5" fill="#19dd55"/>
<rect x="511.00" y="482.4" width="3.6" height="6.7" fill="#19dd55"/>
<rect x="515.76" y="480.5" width="3.6" height="8.6" fill="#19dd55"/>
<rect x="520.53" y="477.8" width="3.6" height="11.3" fill="#19dd55"/>
<rect x="525.30" y="476.0" width="3.6" height="13.1" fill="#19dd55"/>
<rect x="530.06" y="474.7" width="3.6" height="14.4" fill="#19dd55"/>
<rect x="534.83" y="473.6" width="3.6" height="15.5" fill="#19dd55"/>
<rect x="539.59" y="471.0" width="3.6" height="18.1" fill="#19dd55"/>
<rect x="544.36" y="466.5" width="3.6" height="22.6" fill="#19dd55"/>
<rect x="549.13" y="463.2" width="3.6" height="25.9" fill="#19dd55"/>
<rect x="553.89" y="461.9" width="3.6" height="27.2" fill="#19dd55"/>
<rect x="558.66" y="460.8" width="3.6" height="28.3" fill="#19dd55"/>
<rect x="563.42" y="459.5" width="3.6" height="29.6" fill="#19dd55"/>
<rect x="568.19" y="459.9" width="3.6" height="29.2" fill="#077a0f"/>
<rect x="572.96" y="461.4" width="3.6" height="27.7" fill="#077a0f"/>
<rect x="577.72" y="463.2" width="3.6" height="25.9" fill="#077a0f"/>
<rect x="582.49" y="466.3" width="3.6" height="22.8" fill="#077a0f"/>
<rect x="587.25" y="467.8" width="3.6" height="21.3" fill="#077a0f"/>
<rect x="592.02" y="469.9" width="3.6" height="19.2" fill="#077a0f"/>
<rect x="596.79" y="472.0" width="3.6" height="17.1" fill="#077a0f"/>
<rect x="601.55" y="473.2" width="3.6" height="15.9" fill="#077a0f"/>
<rect x="606.32" y="474.1" width="3.6" height="15.0" fill="#077a0f"/>
<rect x="611.08" y="474.1" width="3.6" height="15.0" fill="#077a0f"/>
<rect x="615.85" y="475.6" width="3.6" height="13.5" fill="#077a0f"/>
<rect x="620.62" y="475.6" width="3.6" height="13.5" fill="#077a0f"/>
<rect x="625.38" y="477.8" width="3.6" height="11.3" fill="#077a0f"/>
<rect x="630.15" y="481.1" width="3.6" height="8.0" fill="#077a0f"/>
<rect x="634.91" y="483.3" width="3.6" height="5.8" fill="#077a0f"/>
<rect x="639.68" y="487.3" width="3.6" height="1.8" fill="#077a0f"/>
<rect x="644.45" y="488.4" width="3.6" height="0.7" fill="#077a0f"/>
</g>
<polyline fill="none" stroke="#c4c6cc" stroke-width="1.15" stroke-linejoin="round" points="1.8,489.1 10.9,489.1 21.9,490.6 29.2,492.0 38.3,493.3 47.4,492.4 54.7,490.6 63.8,488.2 73.0,486.0 82.1,483.8 91.2,483.3 98.5,483.6 105.8,485.6 113.1,488.7 120.4,491.5 127.7,494.8 135.0,497.0 142.3,498.0 151.4,498.0 158.7,497.9 160.0,497.9 169.1,495.5 178.2,494.2 187.4,491.5 196.5,489.7 205.6,486.4 214.7,483.6 223.8,480.0 233.0,478.2 242.1,479.3 249.4,480.5 256.7,483.3 264.0,484.7 273.1,488.7 280.4,491.5 287.7,496.0 296.8,500.2 305.9,504.3 311.4,505.2 318.7,508.4 320.0,508.8 327.3,511.2 336.4,512.5 345.5,512.5 354.7,511.9 363.8,510.6 372.9,509.7 382.0,509.4 389.3,508.8 396.6,507.0 403.9,505.2 409.4,505.2 418.5,502.4 427.6,500.1 436.7,498.2 445.9,497.9 455.0,496.6 464.1,496.0 473.2,494.8 478.7,494.8 480.0,495.5 489.1,493.9 498.2,491.5 507.4,489.7 516.5,486.9 525.6,483.8 534.7,480.2 543.8,476.5 553.0,472.3 562.1,468.1 569.4,464.7 578.5,462.7 587.6,462.3 594.9,462.7 604.0,466.3 611.3,468.1 618.6,470.9 625.9,472.3 633.2,474.2 640.5,477.3 646.4,479.6"/>
<rect x="882.75" y="0" width="1.45" height="550" fill="#696b72"/>
<rect x="0" y="519.3" width="932" height="1.8" fill="#595b62"/>
<defs><clipPath id="tc"><rect x="0" y="519" width="881.3" height="31"/></clipPath></defs>
<g clip-path="url(#tc)">
<rect x="22.35" y="521" width="1.3" height="2.8" fill="#696b72"/>
<text x="20.5" y="540.7" font-size="12" fill="#d5d7dd" stroke="#d5d7dd" stroke-width="0.35" textLength="5.0" lengthAdjust="spacingAndGlyphs">9</text>
<rect x="93.55" y="521" width="1.3" height="2.8" fill="#696b72"/>
<text x="83.2" y="540.7" font-size="12" fill="#d5d7dd" stroke="#d5d7dd" stroke-width="0.35" textLength="22.0" lengthAdjust="spacingAndGlyphs">13:00</text>
<rect x="165.05" y="521" width="1.3" height="2.8" fill="#696b72"/>
<text x="160.9" y="540.7" font-size="12" fill="#d5d7dd" stroke="#d5d7dd" stroke-width="0.35" textLength="9.5" lengthAdjust="spacingAndGlyphs">16</text>
<rect x="236.65" y="521" width="1.3" height="2.8" fill="#696b72"/>
<text x="226.3" y="540.7" font-size="12" fill="#d5d7dd" stroke="#d5d7dd" stroke-width="0.35" textLength="22.0" lengthAdjust="spacingAndGlyphs">13:00</text>
<rect x="307.95" y="521" width="1.3" height="2.8" fill="#696b72"/>
<text x="303.9" y="540.7" font-size="12" fill="#d5d7dd" stroke="#d5d7dd" stroke-width="0.35" textLength="9.5" lengthAdjust="spacingAndGlyphs">23</text>
<rect x="383.95" y="521" width="1.3" height="2.8" fill="#696b72"/>
<text x="379.9" y="540.7" font-size="12" fill="#d5d7dd" stroke="#d5d7dd" stroke-width="0.35" textLength="9.5" lengthAdjust="spacingAndGlyphs">27</text>
<rect x="460.45" y="521" width="1.3" height="2.8" fill="#696b72"/>
<text x="451.4" y="540.7" font-size="12" fill="#d5d7dd" stroke="#d5d7dd" stroke-width="0.35" textLength="19.5" lengthAdjust="spacingAndGlyphs">2020</text>
<rect x="546.15" y="521" width="1.3" height="2.8" fill="#696b72"/>
<text x="544.3" y="540.7" font-size="12" fill="#d5d7dd" stroke="#d5d7dd" stroke-width="0.35" textLength="5.0" lengthAdjust="spacingAndGlyphs">7</text>
<rect x="660.45" y="521" width="1.3" height="2.8" fill="#696b72"/>
<text x="656.4" y="540.7" font-size="12" fill="#d5d7dd" stroke="#d5d7dd" stroke-width="0.35" textLength="9.5" lengthAdjust="spacingAndGlyphs">13</text>
<rect x="732.05" y="521" width="1.3" height="2.8" fill="#696b72"/>
<text x="721.7" y="540.7" font-size="12" fill="#d5d7dd" stroke="#d5d7dd" stroke-width="0.35" textLength="22.0" lengthAdjust="spacingAndGlyphs">13:00</text>
<rect x="803.55" y="521" width="1.3" height="2.8" fill="#696b72"/>
<text x="799.5" y="540.7" font-size="12" fill="#d5d7dd" stroke="#d5d7dd" stroke-width="0.35" textLength="9.5" lengthAdjust="spacingAndGlyphs">20</text>
<rect x="875.05" y="521" width="1.3" height="2.8" fill="#696b72"/>
<text x="864.7" y="540.7" font-size="12" fill="#d5d7dd" stroke="#d5d7dd" stroke-width="0.35" textLength="22.0" lengthAdjust="spacingAndGlyphs">13:00</text>
</g>
<rect x="884" y="17.1" width="2.6" height="1" fill="#696b72"/>
<rect x="883.4" y="7.9" width="44.8" height="19.4" fill="#ffffff"/>
<rect x="884" y="17.1" width="2.6" height="1" fill="#555"/>
<text x="890.5" y="22.3" font-size="12" fill="#131722" stroke="#131722" stroke-width="0.3" textLength="30.8" lengthAdjust="spacingAndGlyphs">1.64000</text>
<rect x="884" y="51.9" width="2.6" height="1" fill="#696b72"/>
<text x="890.5" y="57.9" font-size="12" fill="#d0d3da" stroke="#d0d3da" stroke-width="0.3" textLength="30.8" lengthAdjust="spacingAndGlyphs">1.63500</text>
<rect x="884" y="86.3" width="2.6" height="1" fill="#696b72"/>
<rect x="883.4" y="77.1" width="44.8" height="19.4" fill="#ffffff"/>
<rect x="884" y="86.3" width="2.6" height="1" fill="#555"/>
<text x="890.5" y="91.5" font-size="12" fill="#131722" stroke="#131722" stroke-width="0.3" textLength="30.8" lengthAdjust="spacingAndGlyphs">1.63000</text>
<rect x="884" y="121.2" width="2.6" height="1" fill="#696b72"/>
<text x="890.5" y="127.2" font-size="12" fill="#d0d3da" stroke="#d0d3da" stroke-width="0.3" textLength="30.8" lengthAdjust="spacingAndGlyphs">1.62500</text>
<rect x="884" y="156.1" width="2.6" height="1" fill="#696b72"/>
<rect x="883.4" y="146.9" width="44.8" height="19.4" fill="#ffffff"/>
<rect x="884" y="156.1" width="2.6" height="1" fill="#555"/>
<text x="890.5" y="161.3" font-size="12" fill="#131722" stroke="#131722" stroke-width="0.3" textLength="30.8" lengthAdjust="spacingAndGlyphs">1.62000</text>
<rect x="884" y="190.7" width="2.6" height="1" fill="#696b72"/>
<text x="890.5" y="196.7" font-size="12" fill="#d0d3da" stroke="#d0d3da" stroke-width="0.3" textLength="30.8" lengthAdjust="spacingAndGlyphs">1.61500</text>
<rect x="884" y="237.1" width="2.6" height="1" fill="#696b72"/>
<rect x="883.4" y="227.9" width="44.8" height="19.4" fill="#ffffff"/>
<rect x="884" y="237.1" width="2.6" height="1" fill="#555"/>
<text x="890.5" y="242.3" font-size="12" fill="#131722" stroke="#131722" stroke-width="0.3" textLength="30.8" lengthAdjust="spacingAndGlyphs">1.61000</text>
<rect x="884" y="260.1" width="2.6" height="1" fill="#696b72"/>
<text x="890.5" y="266.1" font-size="12" fill="#d0d3da" stroke="#d0d3da" stroke-width="0.3" textLength="30.8" lengthAdjust="spacingAndGlyphs">1.60500</text>
<rect x="884" y="295.0" width="2.6" height="1" fill="#696b72"/>
<rect x="883.4" y="285.8" width="44.8" height="19.4" fill="#ffffff"/>
<rect x="884" y="295.0" width="2.6" height="1" fill="#555"/>
<text x="890.5" y="300.2" font-size="12" fill="#131722" stroke="#131722" stroke-width="0.3" textLength="30.8" lengthAdjust="spacingAndGlyphs">1.60000</text>
<rect x="884" y="330.1" width="2.6" height="1" fill="#696b72"/>
<text x="890.5" y="336.1" font-size="12" fill="#d0d3da" stroke="#d0d3da" stroke-width="0.3" textLength="30.8" lengthAdjust="spacingAndGlyphs">1.59500</text>
<rect x="884" y="370.7" width="2.6" height="1" fill="#696b72"/>
<text x="890.5" y="376.7" font-size="12" fill="#d0d3da" stroke="#d0d3da" stroke-width="0.3" textLength="35.4" lengthAdjust="spacingAndGlyphs">80.00000</text>
<rect x="884" y="418.3" width="2.6" height="1" fill="#696b72"/>
<text x="890.5" y="424.3" font-size="12" fill="#d0d3da" stroke="#d0d3da" stroke-width="0.3" textLength="35.4" lengthAdjust="spacingAndGlyphs">40.00000</text>
<rect x="884" y="488.9" width="2.6" height="1" fill="#696b72"/>
<text x="890.5" y="494.9" font-size="12" fill="#d0d3da" stroke="#d0d3da" stroke-width="0.3" textLength="30.8" lengthAdjust="spacingAndGlyphs">0.00000</text>
<rect x="846" y="208.6" width="82.2" height="19" fill="#0000f5"/>
<rect x="884" y="217.5" width="2.6" height="1" fill="#c0c0ff"/>
<text x="852.4" y="223" font-size="12" font-weight="bold" fill="#ffffff" textLength="26.6" lengthAdjust="spacingAndGlyphs">−0.31%</text>
<text x="890.8" y="223" font-size="12" font-weight="bold" fill="#ffffff" textLength="29.5" lengthAdjust="spacingAndGlyphs">1.61111</text>
<rect x="882.8" y="208.6" width="1.3" height="19" fill="#6c6cc4"/>
</svg>
</body></html>
